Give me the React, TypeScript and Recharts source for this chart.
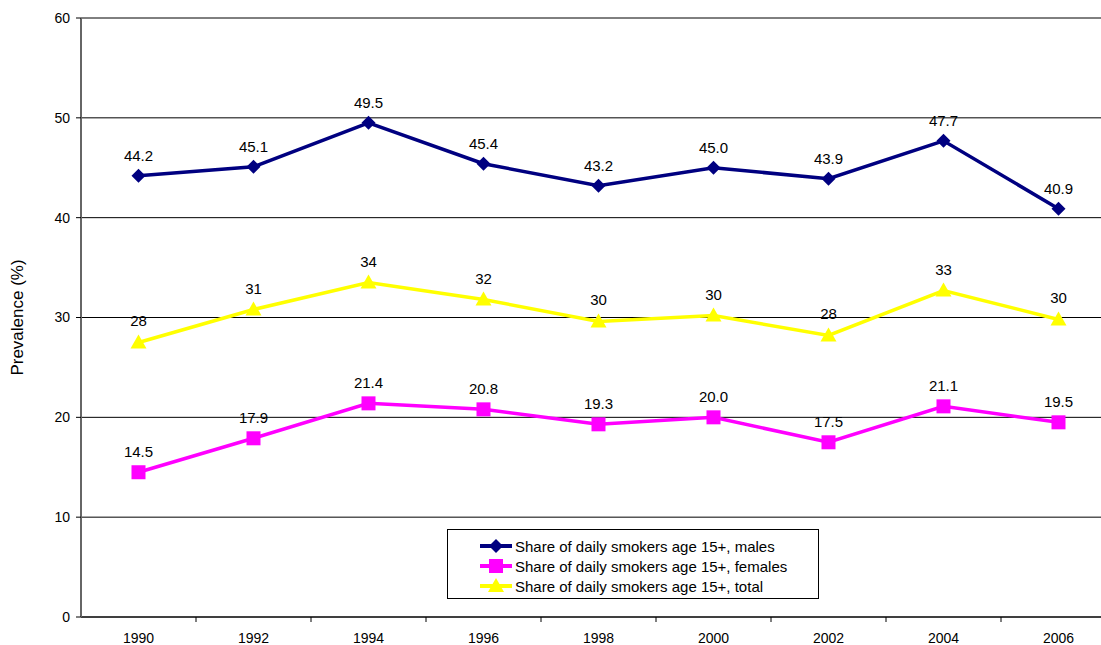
import React from "react";
import {
  LineChart,
  Line,
  XAxis,
  YAxis,
  CartesianGrid,
  Legend,
  LabelList,
} from "recharts";

const years = [1990, 1992, 1994, 1996, 1998, 2000, 2002, 2004, 2006];
const males = [44.2, 45.1, 49.5, 45.4, 43.2, 45.0, 43.9, 47.7, 40.9];
const females = [14.5, 17.9, 21.4, 20.8, 19.3, 20.0, 17.5, 21.1, 19.5];
const total = [27.5, 30.8, 33.5, 31.8, 29.6, 30.2, 28.2, 32.7, 29.8];

const yTicks = [0, 10, 20, 30, 40, 50, 60];
const boundaryTicks = [1991, 1993, 1995, 1997, 1999, 2001, 2003, 2005];

const FONT = "'Liberation Sans', Arial, sans-serif";

const SERIES = [
  { key: "males", name: "Share of daily smokers age 15+, males", color: "#000080", shape: "diamond" },
  { key: "females", name: "Share of daily smokers age 15+, females", color: "#FF00FF", shape: "square" },
  { key: "total", name: "Share of daily smokers age 15+, total", color: "#FFFF00", shape: "triangle" },
];

const chartData = years.map((y, i) => ({
  year: y,
  males: males[i],
  females: females[i],
  total: total[i],
}));

function Marker({ cx, cy, shape, color }: any) {
  if (cx == null || cy == null) return null;
  if (shape === "diamond") {
    return <polygon points={`${cx},${cy - 7} ${cx + 7},${cy} ${cx},${cy + 7} ${cx - 7},${cy}`} fill={color} />;
  }
  if (shape === "square") {
    return <rect x={cx - 7} y={cy - 7} width={14} height={14} fill={color} />;
  }
  return <polygon points={`${cx},${cy - 8} ${cx + 8},${cy + 6} ${cx - 8},${cy + 6}`} fill={color} />;
}

function XTick({ x, y, payload }: any) {
  const v = payload.value;
  if (v % 2 === 1) {
    return <line x1={x} y1={y} x2={x} y2={y + 5} stroke="#000" />;
  }
  return (
    <text x={x} y={y + 26} textAnchor="middle" fontSize={14} fontFamily={FONT} fill="#000">
      {v}
    </text>
  );
}

function LegendBox() {
  return (
    <div
      style={{
        width: 370,
        height: 62,
        border: "1px solid #000",
        background: "#fff",
        fontFamily: FONT,
        fontSize: 15,
        boxSizing: "content-box",
        paddingTop: 6,
      }}
    >
      {SERIES.map((s) => (
        <div key={s.key} style={{ display: "flex", alignItems: "center", height: 20 }}>
          <svg width={66} height={20} style={{ flex: "none" }}>
            <line x1={32} y1={10} x2={64} y2={10} stroke={s.color} strokeWidth={4} />
            <Marker cx={48} cy={10} shape={s.shape} color={s.color} />
          </svg>
          <span style={{ marginLeft: 1, color: "#000", whiteSpace: "nowrap" }}>{s.name}</span>
        </div>
      ))}
    </div>
  );
}

export default function App() {
  return (
    <div
      style={{
        position: "absolute",
        left: 0,
        top: 0,
        width: 1101,
        height: 645,
        overflow: "hidden",
        background: "#fff",
      }}
    >
      <LineChart
        width={1116}
        height={645}
        data={chartData}
        margin={{ top: 18, right: 0, left: 0, bottom: 0 }}
      >
        <CartesianGrid vertical={false} stroke="#000" />
        <XAxis
          dataKey="year"
          type="number"
          domain={[1989, 2007]}
          ticks={[...years, ...boundaryTicks]}
          interval={0}
          tick={<XTick />}
          tickLine={false}
          tickSize={0}
          tickMargin={0}
          height={28}
          axisLine={{ stroke: "#000" }}
        />
        <YAxis
          domain={[0, 60]}
          ticks={yTicks}
          interval={0}
          width={81}
          tickSize={5}
          tickMargin={6}
          tick={{ fontSize: 14, fontFamily: FONT, fill: "#000" }}
          axisLine={{ stroke: "#666", strokeWidth: 2 }}
          tickLine={{ stroke: "#000" }}
          label={{
            value: "Prevalence (%)",
            angle: -90,
            position: "insideLeft",
            dx: 12,
            style: { fontSize: 17, fontFamily: FONT, fill: "#000", textAnchor: "middle" },
          }}
        />
        <Legend
          layout="vertical"
          align="center"
          verticalAlign="middle"
          wrapperStyle={{ left: 447, top: 529, width: 372, height: 70 }}
          content={() => <LegendBox />}
        />
        {SERIES.map((s) => (
          <Line
            key={s.key}
            dataKey={s.key}
            name={s.name}
            type="linear"
            stroke={s.color}
            strokeWidth={3.5}
            isAnimationActive={false}
            dot={(p: any) => <Marker key={`${s.key}-${p.index}`} cx={p.cx} cy={p.cy} shape={s.shape} color={s.color} />}
            activeDot={false}
          >
            <LabelList
              dataKey={s.key}
              position="top"
              offset={s.key === "total" ? 16 : 15}
              formatter={(v: any) => (s.key === "total" ? String(Math.round(v)) : Number(v).toFixed(1))}
              style={{ fontSize: 15, fontFamily: FONT, fill: "#000" }}
            />
          </Line>
        ))}
      </LineChart>
    </div>
  );
}
